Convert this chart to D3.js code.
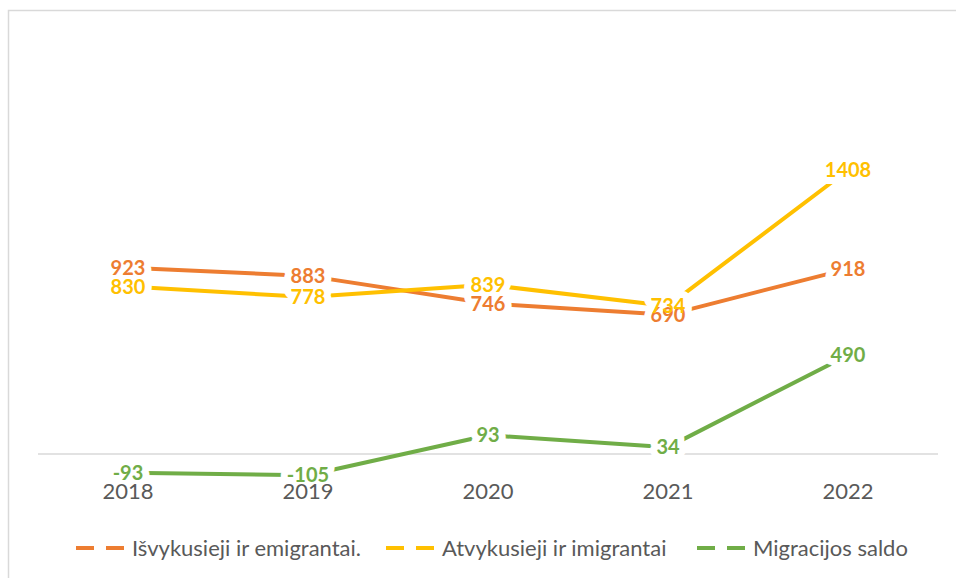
<!DOCTYPE html>
<html>
<head>
<meta charset="utf-8">
<script src="https://cdn.jsdelivr.net/npm/d3@7"></script>
<style>
  body { margin: 0; background: #fff; }
  text { font-family: Lato, "Open Sans", sans-serif; }
</style>
</head>
<body>
<div id="chart"></div>
<script>
// data
var years = ["2018", "2019", "2020", "2021", "2022"];
var emigrants = [923, 883, 746, 690, 918];
var immigrants = [830, 778, 839, 734, 1408];
var saldo = [-93, -105, 93, 34, 490];
var seriesNames = ["Išvykusieji ir emigrantai.", "Atvykusieji ir imigrantai", "Migracijos saldo"];
var colors = ["#ED7D31", "#FFC000", "#70AD47"];

var width = 956, height = 578;

var svg = d3.select("#chart")
  .append("svg")
  .attr("width", width)
  .attr("height", height);

// chart border
svg.append("rect")
  .attr("x", 8.5).attr("y", 10.5)
  .attr("width", 960).attr("height", 600)
  .attr("fill", "none")
  .attr("stroke", "#d9d9d9")
  .attr("stroke-width", 1.5);

var x = d3.scaleBand().domain(years).range([38, 938]);
var y = d3.scaleLinear().domain([0, 1400]).range([454, 171.6]);
var cx = function (d) { return x(d) + x.bandwidth() / 2; };

// zero line
svg.append("line")
  .attr("x1", x.range()[0]).attr("x2", x.range()[1])
  .attr("y1", y(0)).attr("y2", y(0))
  .attr("stroke", "#d9d9d9")
  .attr("stroke-width", 1.5);

var series = [emigrants, immigrants, saldo].map(function (vals, i) {
  return { name: seriesNames[i], color: colors[i], values: vals.map(function (v, j) { return { year: years[j], value: v }; }) };
});

var line = d3.line()
  .x(function (d) { return cx(d.year); })
  .y(function (d) { return y(d.value); });

svg.selectAll(".series")
  .data(series)
  .enter()
  .append("path")
  .attr("class", "series")
  .attr("d", function (d) { return line(d.values); })
  .attr("fill", "none")
  .attr("stroke", function (d) { return d.color; })
  .attr("stroke-width", 4)
  .attr("stroke-linejoin", "round");

// white glow behind labels, then the labels themselves
var labelData = [];
series.forEach(function (s) {
  s.values.forEach(function (d) { labelData.push({ color: s.color, year: d.year, value: d.value }); });
});

svg.selectAll(".halo")
  .data(labelData)
  .enter()
  .append("text")
  .attr("class", "halo")
  .attr("x", function (d) { return cx(d.year); })
  .attr("y", function (d) { return y(d.value); })
  .attr("dy", "0.35em")
  .attr("text-anchor", "middle")
  .style("font-size", "20px")
  .style("font-weight", "bold")
  .attr("fill", "#fff")
  .attr("stroke", "#fff")
  .attr("stroke-width", 14)
  .attr("stroke-linejoin", "round")
  .text(function (d) { return d.value; });

svg.selectAll(".lbl")
  .data(labelData)
  .enter()
  .append("text")
  .attr("class", "lbl")
  .attr("x", function (d) { return cx(d.year); })
  .attr("y", function (d) { return y(d.value); })
  .attr("dy", "0.35em")
  .attr("text-anchor", "middle")
  .style("font-size", "20px")
  .style("font-weight", "bold")
  .attr("fill", function (d) { return d.color; })
  .text(function (d) { return d.value; });

// category labels
svg.append("g")
  .selectAll("text")
  .data(years)
  .enter()
  .append("text")
  .attr("x", cx)
  .attr("y", 499)
  .attr("text-anchor", "middle")
  .style("font-size", "22px")
  .attr("fill", "#595959")
  .text(function (d) { return d; });

// legend
var legendX = [76, 386, 697];
var legend = svg.selectAll(".legend")
  .data(series)
  .enter()
  .append("g")
  .attr("class", "legend")
  .attr("transform", function (d, i) { return "translate(" + legendX[i] + ",548)"; });

legend.append("line")
  .attr("x1", 0).attr("x2", 50)
  .attr("stroke", function (d) { return d.color; })
  .attr("stroke-width", 4)
  .attr("stroke-dasharray", "18,12");

legend.append("text")
  .attr("x", 56)
  .attr("dy", "0.35em")
  .style("font-size", "22px")
  .attr("fill", "#595959")
  .text(function (d) { return d.name; });
</script>
</body>
</html>
